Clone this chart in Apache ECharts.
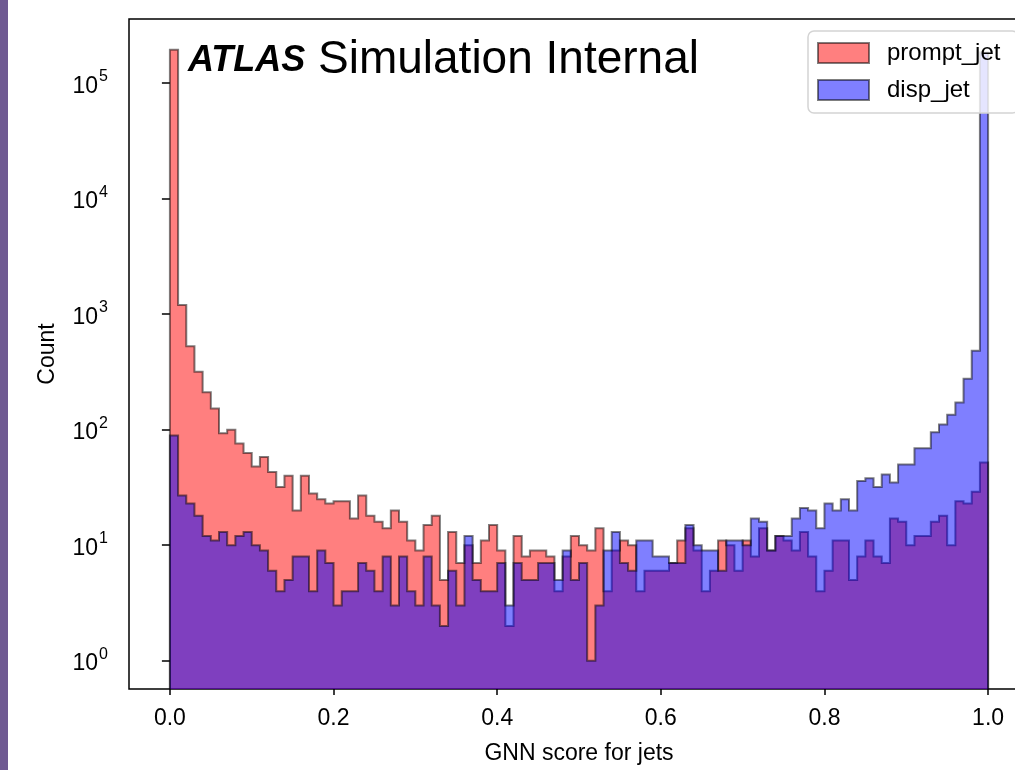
<!DOCTYPE html>
<html>
<head>
<meta charset="utf-8">
<script src="https://cdn.jsdelivr.net/npm/echarts@6/dist/echarts.min.js"></script>
<style>
  html, body { margin: 0; padding: 0; background: #ffffff; overflow: hidden; }
  #chart { width: 1040px; height: 770px; }
</style>
</head>
<body>
<div id="chart"></div>
<script>
// Histogram binning: 100 equal bins on [0, 1]
const binLow = 0.0;
const binHigh = 1.0;

// Counts per bin, left to right
const promptJet = [
  195000, 1200, 527, 318, 211, 153, 93, 100, 76, 63,
  48, 58, 43, 32, 40, 20, 40, 28, 25, 23,
  24, 24, 17, 27, 18, 16, 14, 20, 16, 11,
  9, 15, 18, 5, 13, 7, 10, 7, 11, 15,
  9, 2, 12, 8, 9, 9, 8, 4, 8, 12,
  10, 9, 14, 4, 9, 11, 10, 4, 6, 6,
  6, 7, 11, 14, 9, 4, 6, 11, 10, 6,
  11, 8, 14, 9, 12, 11, 9, 13, 8, 4,
  6, 11, 11, 5, 8, 11, 8, 7, 17, 16,
  10, 12, 12, 16, 18, 10, 24, 23, 29, 52
];

const dispJet = [
  89, 27, 23, 18, 12, 11, 13, 10, 12, 13,
  10, 9, 6, 4, 5, 8, 8, 4, 9, 7,
  3, 4, 4, 7, 6, 4, 8, 3, 8, 4,
  3, 8, 3, 2, 6, 3, 12, 5, 4, 4,
  7, 3, 7, 5, 5, 7, 7, 5, 9, 5,
  7, 1, 3, 9, 13, 7, 6, 11, 11, 8,
  8, 7, 7, 15, 10, 9, 9, 6, 11, 11,
  10, 17, 16, 9, 12, 12, 17, 21, 20, 14,
  23, 20, 25, 20, 36, 38, 32, 41, 35, 50,
  50, 69, 69, 95, 111, 135, 172, 277, 483, 185000
];

const seriesNames = ['prompt_jet', 'disp_jet'];

// Axis ranges and tick positions
const xMin = -0.05, xMax = 1.05;
const yMin = 0.569, yMax = 3.6e5;
const xTicks = [0.0, 0.2, 0.4, 0.6, 0.8, 1.0];
const yMajorTicks = [1, 10, 100, 1000, 10000, 100000];
const yMinorTicks = [];
for (let k = -1; k <= 5; k++) {
  for (let m = 2; m <= 9; m++) {
    const v = m * Math.pow(10, k);
    if (v >= yMin && v <= yMax) yMinorTicks.push(+v.toPrecision(3));
  }
}

const FONT = '"Liberation Sans", Arial, Helvetica, sans-serif';

// Outline of a filled step histogram: up from the floor at the first edge,
// across each bin, and back down to the floor at the last edge.
function stepOutline(counts) {
  const width = (binHigh - binLow) / counts.length;
  const pts = [[binLow, yMin]];
  counts.forEach((c, i) => pts.push([+(binLow + i * width).toFixed(4), c]));
  pts.push([binHigh, yMin]);
  return pts;
}

function histSeries(name, counts, fill, z) {
  return {
    name: name,
    type: 'line',
    step: 'end',
    data: stepOutline(counts),
    showSymbol: false,
    symbol: 'none',
    z: z,
    clip: true,
    animation: false,
    silent: true,
    itemStyle: { color: fill },
    lineStyle: { color: 'rgba(0,0,0,0.5)', width: 2, join: 'miter' },
    areaStyle: { color: fill, opacity: 1, origin: 'start' }
  };
}

const chart = echarts.init(document.getElementById('chart'), null, { renderer: 'canvas' });

chart.setOption({
  backgroundColor: '#ffffff',
  animation: false,
  grid: {
    left: 129, top: 19, right: 11, bottom: 81,
    outerBoundsMode: 'none',
    show: true, borderColor: '#000000', borderWidth: 1.5,
    backgroundColor: 'transparent', containLabel: false
  },
  xAxis: {
    type: 'value',
    min: xMin, max: xMax,
    name: 'GNN score for jets',
    nameLocation: 'middle',
    nameMoveOverlap: false,
    nameGap: 53,
    nameTextStyle: { fontFamily: FONT, fontSize: 23, color: '#000', verticalAlign: 'top' },
    axisLine: { show: false },
    splitLine: { show: false },
    axisTick: { show: true, customValues: xTicks, length: 6, lineStyle: { color: '#000', width: 1.5 } },
    axisLabel: {
      show: true, customValues: xTicks, margin: 18,
      fontFamily: FONT, fontSize: 23, color: '#000',
      formatter: v => v.toFixed(1)
    }
  },
  yAxis: [
    {
      type: 'log', logBase: 10,
      min: yMin, max: yMax,
      name: 'Count',
      nameLocation: 'middle',
      nameMoveOverlap: false,
      nameGap: 70,
      nameRotate: 90,
      nameTextStyle: { fontFamily: FONT, fontSize: 23, color: '#000' },
      axisLine: { show: false },
      splitLine: { show: false },
      axisTick: { show: true, customValues: yMajorTicks, length: 8, lineStyle: { color: '#000', width: 1.5 } },
      axisLabel: {
        show: true, customValues: yMajorTicks, margin: 21,
        formatter: v => '{b|10}{s|' + Math.round(Math.log10(v)) + '}',
        rich: {
          b: { fontFamily: FONT, fontSize: 23, color: '#000', verticalAlign: 'bottom' },
          s: { fontFamily: FONT, fontSize: 16, color: '#000', verticalAlign: 'bottom', padding: [0, 0, 13, 1] }
        }
      }
    },
    {
      type: 'log', logBase: 10,
      min: yMin, max: yMax,
      axisLine: { show: false },
      splitLine: { show: false },
      axisLabel: { show: false },
      axisTick: { show: true, customValues: yMinorTicks, length: 4.5, lineStyle: { color: '#000', width: 1.2 } }
    }
  ],
  legend: {
    orient: 'vertical',
    left: 808, top: 31,
    padding: [10, 18, 11, 9],
    itemGap: 13,
    itemWidth: 51, itemHeight: 20,
    backgroundColor: 'rgba(255,255,255,0.8)',
    borderColor: '#d4d4d4', borderWidth: 1.5, borderRadius: 6,
    selectedMode: false,
    textStyle: { fontFamily: FONT, fontSize: 24, color: '#000', padding: [0, 0, 0, 13] },
    data: [
      { name: seriesNames[0], icon: 'rect', itemStyle: { color: 'rgba(255,0,0,0.5)', borderColor: 'rgba(0,0,0,0.5)', borderWidth: 2 } },
      { name: seriesNames[1], icon: 'rect', itemStyle: { color: 'rgba(0,0,255,0.5)', borderColor: 'rgba(0,0,0,0.5)', borderWidth: 2 } }
    ]
  },
  graphic: [
    { type: 'rect', left: 0, top: 0, z: 100, shape: { width: 8, height: 770 }, style: { fill: '#6f5a92' } },
    { type: 'text', x: 188, y: 61, z: 100,
      style: { text: 'ATLAS', fontFamily: FONT, fontSize: 36, fontWeight: 'bold', fontStyle: 'italic', fill: '#000', verticalAlign: 'middle' } },
    { type: 'text', x: 318, y: 60, z: 100,
      style: { text: 'Simulation Internal', fontFamily: FONT, fontSize: 46, fill: '#000', verticalAlign: 'middle' } }
  ],
  series: [
    histSeries(seriesNames[0], promptJet, 'rgba(255,0,0,0.5)', 2),
    histSeries(seriesNames[1], dispJet, 'rgba(0,0,255,0.5)', 3)
  ]
});
</script>
</body>
</html>
